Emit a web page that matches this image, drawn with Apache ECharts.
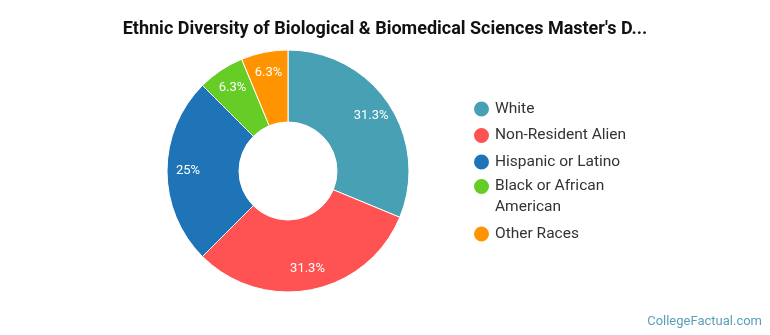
<!DOCTYPE html>
<html>
<head>
<meta charset="utf-8">
<script src="https://cdn.jsdelivr.net/npm/echarts@6/dist/echarts.min.js"></script>
<style>
html,body{margin:0;padding:0;background:#fff;}
#chart{width:770px;height:335px;}
</style>
</head>
<body>
<div id="chart"></div>
<script>
var categories = ['White', 'Non-Resident Alien', 'Hispanic or Latino', 'Black or African American', 'Other Races'];
var values = [5, 5, 4, 1, 1];
var colors = ['#48a0b4', '#ff5252', '#1f73b7', '#66cc26', '#ff9400'];
var titleText = "Ethnic Diversity of Biological & Biomedical Sciences Master's D...";

var chart = echarts.init(document.getElementById('chart'), null, {renderer: 'canvas'});
var data = categories.map(function (c, i) {
  return {name: c, value: values[i], itemStyle: {color: colors[i]}};
});
var labelData = categories.map(function (c, i) {
  return {name: c, value: values[i]};
});
var legendText = {fontFamily: 'Roboto', fontSize: 15.5, color: '#333', lineHeight: 17};
var legendBase = {
  orient: 'vertical',
  left: 472,
  padding: 0,
  icon: 'circle',
  itemWidth: 17,
  itemHeight: 17,
  itemGap: 7.5,
  textStyle: legendText
};
chart.setOption({
  animation: false,
  title: {
    text: titleText,
    left: 'center',
    top: 15,
    textStyle: {fontFamily: 'Roboto', fontWeight: 'bold', fontSize: 18, color: '#111'}
  },
  graphic: [{
    type: 'text',
    right: 8,
    bottom: 7,
    style: {text: 'CollegeFactual.com', fontFamily: 'Roboto', fontSize: 13, fill: '#5a9fb8'}
  }],
  legend: [
    Object.assign({}, legendBase, {top: 99.5, data: categories.slice(0, 3)}),
    Object.assign({}, legendBase, {
      top: 155,
      data: [categories[3]],
      formatter: function (n) { return '\n' + n; },
      textStyle: {fontFamily: 'Roboto', fontSize: 15.5, color: '#333', lineHeight: 21, width: 130, overflow: 'break'}
    }),
    Object.assign({}, legendBase, {top: 224.5, data: [categories[4]]})
  ],
  series: [{
    type: 'pie',
    center: [288, 171],
    radius: [49, 121],
    startAngle: 90,
    clockwise: true,
    avoidLabelOverlap: false,
    itemStyle: {borderColor: '#fff', borderWidth: 1},
    label: {show: false},
    labelLine: {show: false},
    emphasis: {disabled: true},
    data: data
  }, {
    type: 'pie',
    center: [288, 171],
    radius: [73, 121],
    startAngle: 90,
    clockwise: true,
    silent: true,
    avoidLabelOverlap: false,
    itemStyle: {color: 'rgba(0,0,0,0)', borderWidth: 0},
    label: {
      show: true,
      position: 'inside',
      color: '#fff',
      fontFamily: 'Roboto',
      fontSize: 13,
      formatter: function (p) { return (Math.round(p.percent * 10) / 10) + '%'; }
    },
    labelLine: {show: false},
    emphasis: {disabled: true},
    data: labelData
  }]
});
</script>
</body>
</html>
